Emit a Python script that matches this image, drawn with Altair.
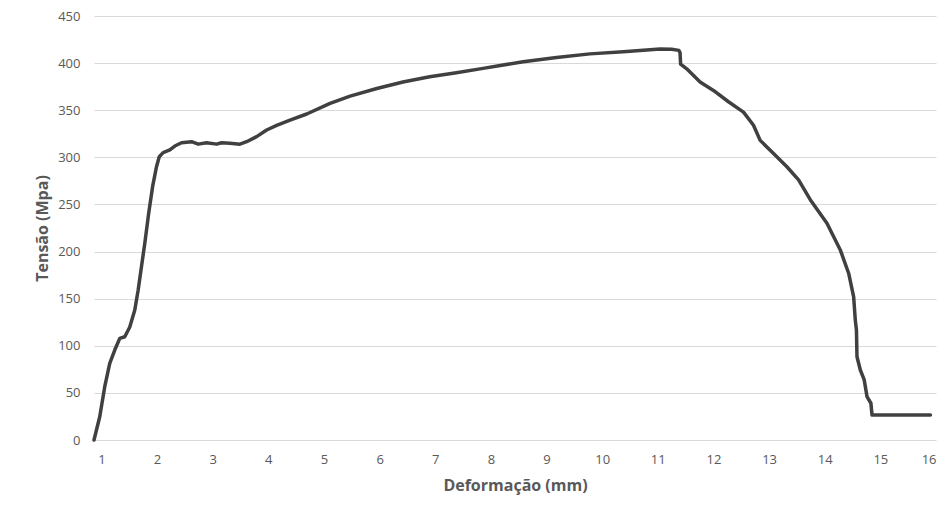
import altair as alt
import pandas as pd

deformacao = [0.867, 0.97, 1.06, 1.15, 1.24, 1.33, 1.42, 1.51, 1.60, 1.66, 1.72, 1.78, 1.85, 1.92, 1.99, 2.04,
              2.11, 2.23, 2.32, 2.44, 2.62, 2.74, 2.89, 3.07, 3.16, 3.31, 3.49, 3.61, 3.79, 3.97, 4.15, 4.39,
              4.69, 5.11, 5.47, 5.95, 6.42, 6.90, 7.38, 7.86, 8.58, 9.18, 9.78, 10.38, 10.80, 11.04, 11.25,
              11.38, 11.40, 11.41, 11.52, 11.76, 12.00, 12.27, 12.54, 12.72, 12.84, 13.08, 13.32, 13.53, 13.74,
              14.04, 14.28, 14.43, 14.52, 14.55, 14.57, 14.58, 14.64, 14.71, 14.76, 14.83, 14.85, 15.9]
tensao = [0, 24.7, 56.6, 81.4, 95.5, 107.9, 109.6, 120, 138, 159, 184, 208.8, 240.6, 268.9, 290, 300.7,
          305, 307.8, 312, 315.5, 316.6, 314, 315.5, 314, 315.5, 315, 314, 316.6, 322, 329, 334, 339.6,
          346, 357.3, 365, 373, 380, 385.6, 389.8, 394.4, 401.5, 406, 409.8, 412, 414, 415, 414.6,
          413.5, 411, 399, 394, 380, 371, 359, 348, 334, 318, 304, 290, 276, 255,
          230, 201.7, 177, 152, 127, 116.7, 88.4, 74.3, 63.7, 46, 39, 26.5, 26.5]
x_ticks = list(range(1, 17))
y_ticks = list(range(0, 451, 50))

df = pd.DataFrame({"Deformação": deformacao, "Tensão": tensao, "ordem": list(range(len(tensao)))})

font = "Open Sans"
chart = alt.Chart(df).mark_line(color="#404040", strokeWidth=3.5, strokeJoin="round", strokeCap="round").encode(
    x=alt.X("Deformação:Q",
            scale=alt.Scale(domain=[0.867, 16], nice=False, zero=False),
            axis=alt.Axis(title="Deformação (mm)", values=x_ticks, grid=False, domain=False, ticks=False,
                          labelPadding=13, titlePadding=11, labelFont=font, labelFontSize=13,
                          labelColor="#595959", titleFont=font, titleFontSize=16, titleFontWeight="bold",
                          titleColor="#595959", format="d")),
    y=alt.Y("Tensão:Q",
            scale=alt.Scale(domain=[0, 450], nice=False),
            axis=alt.Axis(title="Tensão (Mpa)", values=y_ticks, grid=True, gridColor="#d9d9d9", gridWidth=1,
                          domain=False, ticks=False, labelPadding=14, titlePadding=7, labelFont=font,
                          labelFontSize=13, labelColor="#595959", titleFont=font, titleFontSize=16,
                          titleFontWeight="bold", titleColor="#595959", format="d")),
    order="ordem:Q",
).properties(
    width=842, height=424,
    background="white",
    autosize=alt.AutoSizeParams(type="none"),
    padding={"left": 94, "top": 16, "right": 10, "bottom": 76},
).configure_view(strokeWidth=0)

chart.save("out.html", embed_options={"renderer": "svg", "actions": False})
